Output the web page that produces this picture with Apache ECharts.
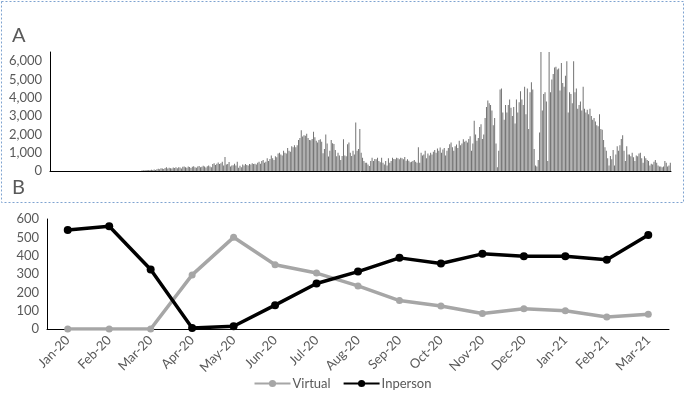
<!DOCTYPE html>
<html><head><meta charset="utf-8">
<script src="https://cdn.jsdelivr.net/npm/echarts@6/dist/echarts.min.js"></script>
<style>html,body{margin:0;padding:0;background:#fff}#c{width:685px;height:414px}</style>
</head><body><div id="c"></div>
<script>
// Panel A: daily counts
const jan20 = [0,0,0,0,0,0,0,0,0,0,0,0,0,0,0,0,0,0,0,0,0,0,0,0,0,0,0,0,0,0,0];
const feb20 = [0,0,0,0,0,0,0,0,0,0,0,0,0,0,0,0,0,0,0,0,0,0,0,0,0,0,0,0,0];
const mar20 = [0,0,0,0,0,0,0,30,40,30,50,40,60,50,70,60,80,60,100,120,90,150,130,110,160,200,140,180,150,130,190];
const apr20 = [170,200,150,210,190,130,230,250,200,180,240,220,160,230,260,210,180,250,270,200,230,280,240,190,260,300,250,210,380,420];
const may20 = [330,400,460,380,430,510,300,770,350,380,490,250,300,320,400,300,500,180,280,200,350,300,380,330,300,380,350,420,380,400,350];
const jun20 = [450,500,400,550,600,450,500,700,550,650,850,700,600,800,750,950,1000,900,850,1100,1000,950,1250,1100,1050,1350,1300,1400,1300,1400];
const jul20 = [1700,1800,2220,1890,1950,1930,2030,1800,1700,1680,1750,2140,1850,1650,1560,1700,1730,1600,970,1200,2000,1500,790,1100,1700,1520,1480,1150,800,1000,850];
const aug20 = [600,820,1740,850,800,1460,1560,1000,820,1100,900,2650,1100,1200,2290,1000,730,550,450,450,350,270,550,730,550,650,640,730,550,480,730];
const sep20 = [450,350,550,300,700,450,550,720,650,640,720,690,640,720,690,640,760,560,640,560,480,510,550,600,500,450,1300,450,1000,850];
const oct20 = [900,1100,700,950,850,1000,900,1050,1150,1000,1230,1100,1280,1000,1180,1250,850,1100,1250,1460,1560,1300,1100,1350,1450,1250,1650,1400,1500,1740,1600];
const nov20 = [1650,1550,1750,1900,1100,1500,2750,2000,1650,1800,2400,2550,1750,2000,2900,3500,3850,3700,3600,3300,2500,2900,1500,200,1100,4450,4500,3200,2800,3600];
const dec20 = [3200,3600,3900,3450,3000,3500,2600,3900,3200,3750,4350,3900,3600,4600,3100,4500,2300,4300,4850,4450,1200,300,250,600,2100,6500,3300,4200,4300,3800,550];
const jan21 = [6500,4300,5000,5300,5650,5700,5550,5600,4400,5900,4800,4600,5200,6000,3200,4300,4200,3700,6000,4300,4500,3400,3600,3800,3300,4600,3400,3200,3350,3100,3400];
const feb21 = [3000,2800,2900,2700,2500,2450,3100,2300,2250,1700,1300,1100,700,300,820,640,1150,300,900,1350,1100,1400,1750,1950,1100,550,1350,900];
const mar21 = [900,800,1000,750,550,850,800,950,1000,700,450,800,700,600,550,300,400,350,500,600,450,300,250,250,200,250,550,450,250,300,450];
const dailyCounts = [].concat(jan20,feb20,mar20,apr20,may20,jun20,jul20,aug20,sep20,oct20,nov20,dec20,jan21,feb21,mar21);

// day categories
const dayLabels = [];
for (let t = Date.UTC(2020,0,1); dayLabels.length < dailyCounts.length; t += 86400000) {
  dayLabels.push(new Date(t).toISOString().slice(0,10));
}

// Panel B: monthly
const months = ['Jan-20','Feb-20','Mar-20','Apr-20','May-20','Jun-20','Jul-20','Aug-20','Sep-20','Oct-20','Nov-20','Dec-20','Jan-21','Feb-21','Mar-21'];
const virtualVals = [0,0,0,295,500,350,305,235,155,125,85,110,100,65,80];
const inpersonVals = [540,560,325,5,15,130,248,313,388,357,410,397,397,378,513];

const FONT = 'Lato';
const TXT = '#595959';
const fmt = v => String(v).replace(/\B(?=(\d{3})+(?!\d))/g, ',');

const chart = echarts.init(document.getElementById('c'));
chart.setOption({
  animation: false,
  textStyle: {fontFamily: FONT},
  graphic: [
    {type:'rect', shape:{x:1.5,y:1.5,width:682,height:201}, style:{fill:'none', stroke:'#7ea3d0', lineDash:[2,2], lineWidth:1}},
    {type:'text', x:12, y:26, style:{text:'A', fontSize:20, fill:TXT, fontFamily:FONT}},
    {type:'text', x:12, y:178, style:{text:'B', fontSize:20, fill:TXT, fontFamily:FONT}}
  ],
  grid: [
    {left:50, right:14, top:52, height:119},
    {left:47, right:16, top:219, height:110}
  ],
  xAxis: [
    {type:'category', gridIndex:0, data:dayLabels, boundaryGap:true,
     axisLine:{lineStyle:{color:'#000', width:1}},
     axisTick:{interval:(i) => dayLabels[i].slice(8) === '01', length:5, lineStyle:{color:'#000'}},
     axisLabel:{show:false}},
    {type:'category', gridIndex:1, data:months, boundaryGap:true,
     axisLine:{lineStyle:{color:'#000', width:1}},
     axisTick:{interval:0, length:5, lineStyle:{color:'#000'}},
     axisLabel:{interval:0, rotate:45, color:TXT, fontSize:13, margin:9, fontFamily:FONT}}
  ],
  yAxis: [
    {type:'value', gridIndex:0, min:0, max:6500, interval:1000,
     axisLine:{show:true, lineStyle:{color:'#000'}}, axisTick:{show:false}, splitLine:{show:false},
     axisLabel:{showMaxLabel:false, color:TXT, fontSize:13, margin:8, formatter:fmt, fontFamily:FONT}},
    {type:'value', gridIndex:1, min:0, max:600, interval:100,
     axisLine:{show:true, lineStyle:{color:'#000'}}, axisTick:{show:false}, splitLine:{show:false},
     axisLabel:{color:TXT, fontSize:13, margin:8, fontFamily:FONT}}
  ],
  legend: {top:372, left:'center', itemWidth:36, itemHeight:9, itemGap:12,
    data:['Virtual','Inperson'], textStyle:{color:TXT, fontSize:13, fontFamily:FONT, padding:[0,0,0,-3]}},
  series: [
    {type:'bar', xAxisIndex:0, yAxisIndex:0, data:dailyCounts, barCategoryGap:'30%', itemStyle:{color:'#737373'}, clip:true},
    {type:'line', name:'Virtual', xAxisIndex:1, yAxisIndex:1, data:virtualVals, color:'#a6a6a6',
     lineStyle:{width:3.5, color:'#a6a6a6'}, itemStyle:{color:'#a6a6a6'}, symbol:'circle', symbolSize:7},
    {type:'line', name:'Inperson', xAxisIndex:1, yAxisIndex:1, data:inpersonVals, color:'#000',
     lineStyle:{width:3.5, color:'#000'}, itemStyle:{color:'#000'}, symbol:'circle', symbolSize:8}
  ]
});
</script></body></html>
